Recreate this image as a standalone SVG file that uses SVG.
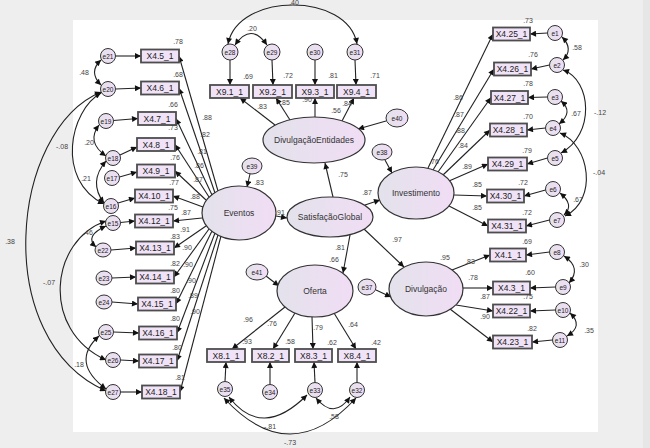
<svg xmlns="http://www.w3.org/2000/svg" width="650" height="448" viewBox="0 0 650 448">
<defs>
<marker id="ah" viewBox="0 0 10 10" refX="10" refY="5" markerWidth="7" markerHeight="6" markerUnits="userSpaceOnUse" orient="auto-start-reverse"><path d="M0,0 L10,5 L0,10 z" fill="#111"/></marker>
<linearGradient id="lg" x1="0" x2="1" y1="0" y2="0"><stop offset="0" stop-color="#e3e2eb"/><stop offset="1" stop-color="#f1ddf5"/></linearGradient>
</defs>
<style>
.c{fill:none;stroke:#222;stroke-width:1.1}
.a{marker-end:url(#ah)}
.d{marker-start:url(#ah);marker-end:url(#ah)}
.bx rect{fill:#f1e3f7;stroke:#4d4d4d;stroke-width:1.8}
.lv ellipse{fill:url(#lg);stroke:#333;stroke-width:1.2}
.er ellipse,.er circle{fill:url(#lg);stroke:#333;stroke-width:1}
text{font-family:"Liberation Sans",Arial,sans-serif;text-anchor:middle}
.t{font-size:8.5px;fill:#222}
.lt{font-size:8.5px;fill:#333}
.et{font-size:6.5px;fill:#222}
.n{font-size:7px;fill:#444}
</style>
<rect x="0" y="0" width="650" height="448" fill="#eeeeee"/>
<rect x="643" y="0" width="7" height="448" fill="#e6e6e6"/>
<rect x="73" y="20" width="525" height="412" fill="#ffffff"/>

<g id="connectors">
<!-- Eventos loadings -->
<path class="c a" d="M218,191 L179,56"/>
<path class="c a" d="M215,193 L179,88"/>
<path class="c a" d="M212,195 L176,118.5"/>
<path class="c a" d="M209,197 L175,144.5"/>
<path class="c a" d="M206,200 L175,171"/>
<path class="c a" d="M203,207 L173,196"/>
<path class="c a" d="M202,218 L173,221"/>
<path class="c a" d="M206,226 L174,248"/>
<path class="c a" d="M209,229 L174,277"/>
<path class="c a" d="M212,231 L176,304"/>
<path class="c a" d="M215,233 L177,333"/>
<path class="c a" d="M218,235 L177,361"/>
<path class="c a" d="M221,236 L180,392"/>
<!-- left errors -->
<path class="c a" d="M115.5,56 L141,56"/>
<path class="c a" d="M115.5,89 L141,88"/>
<path class="c a" d="M113.5,120.5 L138,118.5"/>
<path class="c a" d="M120,155 L137,147"/>
<path class="c a" d="M119.5,177 L137,172"/>
<path class="c a" d="M118,203 L135,198"/>
<path class="c a" d="M120.5,222.5 L135,221"/>
<path class="c a" d="M111,250 L136,248"/>
<path class="c a" d="M112,278 L136,277"/>
<path class="c a" d="M112,302 L138,304"/>
<path class="c a" d="M113.5,332 L139,333"/>
<path class="c a" d="M120.5,360 L139,361"/>
<path class="c a" d="M120.5,392 L142,392"/>
<!-- left covariances -->
<path class="c d" d="M101,60 Q88,72 101,85"/>
<path class="c d" d="M99,125 Q86,142 106,156"/>
<path class="c d" d="M106,161 Q88,182 104,203"/>
<path class="c d" d="M106,226 Q84,236 96,247"/>
<path class="c d" d="M101,93 C70,110 55,180 104,204"/>
<path class="c d" d="M101,92 C10,130 -10,340 106,391"/>
<path class="c d" d="M106,221 C50,240 40,330 106,360"/>
<path class="c d" d="M99,336 Q70,362 106,389"/>
<!-- top -->
<path class="c a" d="M230,60 L230,85"/>
<path class="c a" d="M272,60 L273,85"/>
<path class="c a" d="M315,60 L315,85"/>
<path class="c a" d="M355,60 L356,85"/>
<path class="c d" d="M235,45 Q251,22 267,45"/>
<path class="c d" d="M228,44 C238,-8 348,-8 357,44"/>
<path class="c a" d="M275,125 L240,98"/>
<path class="c a" d="M290,120 L276,98"/>
<path class="c a" d="M315,117 L315,98"/>
<path class="c a" d="M342,121 L354,98"/>
<path class="c a" d="M386,121 L358,129"/>
<!-- structural -->
<path class="c a" d="M333,197 L325,163"/>
<path class="c a" d="M365,205 L380,200"/>
<path class="c a" d="M364,229 L404,267"/>
<path class="c a" d="M350,235 L343,273"/>
<path class="c a" d="M276,216 L287,218"/>
<path class="c a" d="M250,174 L247,187"/>
<path class="c a" d="M266,276 L279,286"/>
<path class="c a" d="M376,290 L391,297"/>
<path class="c a" d="M385,160 L392,173"/>
<!-- bottom -->
<path class="c a" d="M285,307 L232,349"/>
<path class="c a" d="M295,313 L273,349"/>
<path class="c a" d="M312,317 L313,349"/>
<path class="c a" d="M334,313 L356,349"/>
<path class="c a" d="M225,381.5 L226,362"/>
<path class="c a" d="M270,384.5 L270,362"/>
<path class="c a" d="M315,382.5 L314,362"/>
<path class="c a" d="M357,382.5 L357,362"/>
<path class="c d" d="M229,397 Q262,440 307,395"/>
<path class="c d" d="M316,398 Q334,420 350,397"/>
<path class="c d" d="M224,398 Q290,470 356,398"/>
<!-- Investimento loadings -->
<path class="c a" d="M428,168 L493,34"/>
<path class="c a" d="M433,170 L494,69"/>
<path class="c a" d="M438,172 L491,97.5"/>
<path class="c a" d="M443,175 L490,130"/>
<path class="c a" d="M449,181 L488,164"/>
<path class="c a" d="M454,195 L487,196"/>
<path class="c a" d="M449,206 L488,226"/>
<!-- Divulgacao loadings -->
<path class="c a" d="M452,270 L490,255"/>
<path class="c a" d="M463,288 L493,288"/>
<path class="c a" d="M456,305 L493,311"/>
<path class="c a" d="M450,309 L493,342"/>
<!-- right errors -->
<path class="c a" d="M547.5,33 L530,34"/>
<path class="c a" d="M549.5,65 L531,69"/>
<path class="c a" d="M547.5,97 L528,97.5"/>
<path class="c a" d="M545.5,128 L527,130"/>
<path class="c a" d="M547.5,158 L527,164"/>
<path class="c a" d="M545.5,190 L524,196"/>
<path class="c a" d="M549.5,220 L526,226"/>
<path class="c a" d="M549.5,252 L526,255"/>
<path class="c a" d="M555.5,287 L530,288"/>
<path class="c a" d="M555.5,310 L530,311"/>
<path class="c a" d="M552.5,340 L532,342"/>
<!-- right covariances -->
<path class="c d" d="M562,37 Q574,49 563,60"/>
<path class="c d" d="M561,101 Q574,112 559,124"/>
<path class="c d" d="M563,70 C592,80 595,135 561,153"/>
<path class="c d" d="M560,133 C590,145 598,200 565,216"/>
<path class="c d" d="M560,193 Q575,205 564,215"/>
<path class="c d" d="M564,256 Q582,268 569,283"/>
<path class="c d" d="M570,313 Q584,326 567,336"/>
</g>

<!-- latent variables -->
<g id="Eventos" class="lv"><ellipse cx="239" cy="213" rx="37" ry="27"/><text class="lt" x="239" y="216">Eventos</text></g>
<g id="SatisfacaoGlobal" class="lv"><ellipse cx="330" cy="217" rx="43" ry="20"/><text class="lt" x="330" y="220">SatisfaçãoGlobal</text></g>
<g id="DivulgacaoEntidades" class="lv"><ellipse cx="314" cy="140" rx="51" ry="23"/><text class="lt" x="314" y="143">DivulgaçãoEntidades</text></g>
<g id="Investimento" class="lv"><ellipse cx="416" cy="193" rx="38" ry="26"/><text class="lt" x="416" y="196">Investimento</text></g>
<g id="Divulgacao" class="lv"><ellipse cx="426" cy="289" rx="37" ry="27"/><text class="lt" x="426" y="292">Divulgação</text></g>
<g id="Oferta" class="lv"><ellipse cx="315" cy="291" rx="38" ry="26"/><text class="lt" x="315" y="294">Oferta</text></g>

<!-- disturbances -->
<g id="e37" class="er"><ellipse cx="367" cy="287" rx="9" ry="8"/><text class="et" x="367" y="289.5">e37</text></g>
<g id="e38" class="er"><ellipse cx="382" cy="152" rx="10" ry="8"/><text class="et" x="382" y="154.5">e38</text></g>
<g id="e39" class="er"><ellipse cx="252" cy="166" rx="10" ry="8"/><text class="et" x="252" y="168.5">e39</text></g>
<g id="e40" class="er"><ellipse cx="397" cy="118" rx="11" ry="9"/><text class="et" x="397" y="120.5">e40</text></g>
<g id="e41" class="er"><ellipse cx="257" cy="272" rx="11" ry="8"/><text class="et" x="257" y="274.5">e41</text></g>

<!-- left indicators -->
<g id="X4.5_1" class="bx"><rect x="141" y="49.5" width="38" height="13"/><text class="t" x="160" y="59">X4.5_1</text></g>
<g id="X4.6_1" class="bx"><rect x="141" y="81.5" width="38" height="13"/><text class="t" x="160" y="91">X4.6_1</text></g>
<g id="X4.7_1" class="bx"><rect x="138" y="112" width="38" height="13"/><text class="t" x="157" y="121.5">X4.7_1</text></g>
<g id="X4.8_1" class="bx"><rect x="137" y="138" width="38" height="13"/><text class="t" x="156" y="147.5">X4.8_1</text></g>
<g id="X4.9_1" class="bx"><rect x="137" y="164.5" width="38" height="13"/><text class="t" x="156" y="174">X4.9_1</text></g>
<g id="X4.10_1" class="bx"><rect x="135" y="189.5" width="38" height="13"/><text class="t" x="154" y="199">X4.10_1</text></g>
<g id="X4.12_1" class="bx"><rect x="135" y="214.5" width="38" height="13"/><text class="t" x="154" y="224">X4.12_1</text></g>
<g id="X4.13_1" class="bx"><rect x="136" y="241.5" width="38" height="13"/><text class="t" x="155" y="251">X4.13_1</text></g>
<g id="X4.14_1" class="bx"><rect x="136" y="270.5" width="38" height="13"/><text class="t" x="155" y="280">X4.14_1</text></g>
<g id="X4.15_1" class="bx"><rect x="138" y="297.5" width="38" height="13"/><text class="t" x="157" y="307">X4.15_1</text></g>
<g id="X4.16_1" class="bx"><rect x="139" y="326.5" width="38" height="13"/><text class="t" x="158" y="336">X4.16_1</text></g>
<g id="X4.17_1" class="bx"><rect x="139" y="354.5" width="38" height="13"/><text class="t" x="158" y="364">X4.17_1</text></g>
<g id="X4.18_1" class="bx"><rect x="142" y="385.5" width="38" height="13"/><text class="t" x="161" y="395">X4.18_1</text></g>

<!-- left errors -->
<g id="e21" class="er"><circle cx="108" cy="56" r="7.5"/><text class="et" x="108" y="58.5">e21</text></g>
<g id="e20" class="er"><circle cx="108" cy="89" r="7.5"/><text class="et" x="108" y="91.5">e20</text></g>
<g id="e19" class="er"><circle cx="106" cy="121" r="7.5"/><text class="et" x="106" y="123.5">e19</text></g>
<g id="e18" class="er"><circle cx="113" cy="158" r="7.5"/><text class="et" x="113" y="160.5">e18</text></g>
<g id="e17" class="er"><circle cx="112" cy="178" r="7.5"/><text class="et" x="112" y="180.5">e17</text></g>
<g id="e16" class="er"><circle cx="111" cy="206" r="7.5"/><text class="et" x="111" y="208.5">e16</text></g>
<g id="e15" class="er"><circle cx="113" cy="223" r="7.5"/><text class="et" x="113" y="225.5">e15</text></g>
<g id="e22" class="er"><ellipse cx="103" cy="250" rx="8" ry="7"/><text class="et" x="103" y="252.5">e22</text></g>
<g id="e23" class="er"><ellipse cx="104" cy="278" rx="8" ry="7"/><text class="et" x="104" y="280.5">e23</text></g>
<g id="e24" class="er"><ellipse cx="104" cy="302" rx="8" ry="7"/><text class="et" x="104" y="304.5">e24</text></g>
<g id="e25" class="er"><circle cx="106" cy="332" r="7.5"/><text class="et" x="106" y="334.5">e25</text></g>
<g id="e26" class="er"><circle cx="113" cy="360" r="7.5"/><text class="et" x="113" y="362.5">e26</text></g>
<g id="e27" class="er"><circle cx="113" cy="392" r="7.5"/><text class="et" x="113" y="394.5">e27</text></g>

<!-- top indicators -->
<g id="X9.1_1" class="bx"><rect x="210" y="85" width="39" height="13"/><text class="t" x="229.5" y="94.5">X9.1_1</text></g>
<g id="X9.2_1" class="bx"><rect x="253" y="85" width="39" height="13"/><text class="t" x="272.5" y="94.5">X9.2_1</text></g>
<g id="X9.3_1" class="bx"><rect x="296" y="85" width="38" height="13"/><text class="t" x="315" y="94.5">X9.3_1</text></g>
<g id="X9.4_1" class="bx"><rect x="337" y="85" width="39" height="13"/><text class="t" x="356.5" y="94.5">X9.4_1</text></g>
<g id="e28" class="er"><circle cx="230" cy="52" r="8"/><text class="et" x="230" y="54.5">e28</text></g>
<g id="e29" class="er"><circle cx="272" cy="52" r="8"/><text class="et" x="272" y="54.5">e29</text></g>
<g id="e30" class="er"><circle cx="315" cy="52" r="8"/><text class="et" x="315" y="54.5">e30</text></g>
<g id="e31" class="er"><circle cx="355" cy="52" r="8"/><text class="et" x="355" y="54.5">e31</text></g>

<!-- bottom indicators -->
<g id="X8.1_1" class="bx"><rect x="207" y="349" width="38" height="13"/><text class="t" x="226" y="358.5">X8.1_1</text></g>
<g id="X8.2_1" class="bx"><rect x="252" y="349" width="37" height="13"/><text class="t" x="270.5" y="358.5">X8.2_1</text></g>
<g id="X8.3_1" class="bx"><rect x="295" y="349" width="37" height="13"/><text class="t" x="313.5" y="358.5">X8.3_1</text></g>
<g id="X8.4_1" class="bx"><rect x="338" y="349" width="38" height="13"/><text class="t" x="357" y="358.5">X8.4_1</text></g>
<g id="e35" class="er"><circle cx="225" cy="389" r="7.5"/><text class="et" x="225" y="391.5">e35</text></g>
<g id="e34" class="er"><circle cx="270" cy="392" r="7.5"/><text class="et" x="270" y="394.5">e34</text></g>
<g id="e33" class="er"><circle cx="315" cy="390" r="7.5"/><text class="et" x="315" y="392.5">e33</text></g>
<g id="e32" class="er"><circle cx="357" cy="390" r="7.5"/><text class="et" x="357" y="392.5">e32</text></g>

<!-- right indicators -->
<g id="X4.25_1" class="bx"><rect x="493" y="27.5" width="37" height="13"/><text class="t" x="511.5" y="37">X4.25_1</text></g>
<g id="X4.26_1" class="bx"><rect x="494" y="62.5" width="37" height="13"/><text class="t" x="512.5" y="72">X4.26_1</text></g>
<g id="X4.27_1" class="bx"><rect x="491" y="91" width="37" height="13"/><text class="t" x="509.5" y="100.5">X4.27_1</text></g>
<g id="X4.28_1" class="bx"><rect x="490" y="123.5" width="37" height="13"/><text class="t" x="508.5" y="133">X4.28_1</text></g>
<g id="X4.29_1" class="bx"><rect x="488" y="157.5" width="39" height="13"/><text class="t" x="507.5" y="167">X4.29_1</text></g>
<g id="X4.30_1" class="bx"><rect x="487" y="189.5" width="37" height="13"/><text class="t" x="505.5" y="199">X4.30_1</text></g>
<g id="X4.31_1" class="bx"><rect x="488" y="219.5" width="38" height="13"/><text class="t" x="507" y="229">X4.31_1</text></g>
<g id="X4.1_1" class="bx"><rect x="490" y="248.5" width="36" height="13"/><text class="t" x="508" y="258">X4.1_1</text></g>
<g id="X4.3_1" class="bx"><rect x="493" y="281.5" width="37" height="13"/><text class="t" x="511.5" y="291">X4.3_1</text></g>
<g id="X4.22_1" class="bx"><rect x="493" y="304.5" width="37" height="13"/><text class="t" x="511.5" y="314">X4.22_1</text></g>
<g id="X4.23_1" class="bx"><rect x="493" y="335.5" width="39" height="13"/><text class="t" x="512.5" y="345">X4.23_1</text></g>

<!-- right errors -->
<g id="e1" class="er"><circle cx="555" cy="33" r="7.5"/><text class="et" x="555" y="35.5">e1</text></g>
<g id="e2" class="er"><circle cx="557" cy="65" r="7.5"/><text class="et" x="557" y="67.5">e2</text></g>
<g id="e3" class="er"><circle cx="555" cy="97" r="7.5"/><text class="et" x="555" y="99.5">e3</text></g>
<g id="e4" class="er"><circle cx="553" cy="128" r="7.5"/><text class="et" x="553" y="130.5">e4</text></g>
<g id="e5" class="er"><circle cx="555" cy="158" r="7.5"/><text class="et" x="555" y="160.5">e5</text></g>
<g id="e6" class="er"><circle cx="553" cy="189" r="7.5"/><text class="et" x="553" y="191.5">e6</text></g>
<g id="e7" class="er"><circle cx="557" cy="220" r="7.5"/><text class="et" x="557" y="222.5">e7</text></g>
<g id="e8" class="er"><circle cx="557" cy="252" r="7.5"/><text class="et" x="557" y="254.5">e8</text></g>
<g id="e9" class="er"><circle cx="563" cy="287" r="7.5"/><text class="et" x="563" y="289.5">e9</text></g>
<g id="e10" class="er"><circle cx="563" cy="310" r="7.5"/><text class="et" x="563" y="312.5">e10</text></g>
<g id="e11" class="er"><circle cx="560" cy="340" r="7.5"/><text class="et" x="560" y="342.5">e11</text></g>

<g id="labels" class="n">
<text class="n" x="294" y="5">.40</text>
<text class="n" x="252" y="31">.20</text>
<text class="n" x="248" y="79">.69</text>
<text class="n" x="288" y="78">.72</text>
<text class="n" x="333" y="78">.81</text>
<text class="n" x="375" y="78">.71</text>
<text class="n" x="262" y="109">.83</text>
<text class="n" x="285" y="105">.85</text>
<text class="n" x="307" y="102">.90</text>
<text class="n" x="336" y="113">.56</text>
<text class="n" x="347" y="106">.84</text>
<text class="n" x="343" y="177">.75</text>
<text class="n" x="367" y="195">.87</text>
<text class="n" x="397" y="242">.97</text>
<text class="n" x="340" y="250">.81</text>
<text class="n" x="334" y="262">.66</text>
<text class="n" x="280" y="215">.91</text>
<text class="n" x="259" y="185">.83</text>
<text class="n" x="434" y="164">.76</text>
<text class="n" x="445" y="260">.95</text>
<text class="n" x="458" y="100">.86</text>
<text class="n" x="459" y="117">.87</text>
<text class="n" x="460" y="133">.88</text>
<text class="n" x="463" y="148">.84</text>
<text class="n" x="467" y="169">.89</text>
<text class="n" x="477" y="187">.85</text>
<text class="n" x="477" y="210">.85</text>
<text class="n" x="470" y="264">.83</text>
<text class="n" x="473" y="280">.78</text>
<text class="n" x="485" y="299">.87</text>
<text class="n" x="485" y="319">.90</text>
<text class="n" x="528" y="23">.73</text>
<text class="n" x="533" y="57">.76</text>
<text class="n" x="528" y="86">.78</text>
<text class="n" x="528" y="119">.70</text>
<text class="n" x="527" y="153">.79</text>
<text class="n" x="523" y="185">.72</text>
<text class="n" x="527" y="215">.72</text>
<text class="n" x="527" y="244">.69</text>
<text class="n" x="530" y="275">.60</text>
<text class="n" x="528" y="299">.75</text>
<text class="n" x="532" y="331">.82</text>
<text class="n" x="577" y="50">.58</text>
<text class="n" x="576" y="116">.67</text>
<text class="n" x="600" y="115">-.12</text>
<text class="n" x="599" y="175">-.04</text>
<text class="n" x="578" y="202">.67</text>
<text class="n" x="584" y="267">.30</text>
<text class="n" x="589" y="333">.35</text>
<text class="n" x="248" y="322">.96</text>
<text class="n" x="272" y="326">.76</text>
<text class="n" x="318" y="330">.79</text>
<text class="n" x="353" y="327">.64</text>
<text class="n" x="247" y="344">.93</text>
<text class="n" x="290" y="344">.58</text>
<text class="n" x="332" y="345">.62</text>
<text class="n" x="376" y="345">.42</text>
<text class="n" x="270" y="429">-.81</text>
<text class="n" x="334" y="419">.58</text>
<text class="n" x="290" y="445">-.73</text>
<text class="n" x="84" y="75">.48</text>
<text class="n" x="89" y="145">.20</text>
<text class="n" x="86" y="181">.21</text>
<text class="n" x="88" y="235">.46</text>
<text class="n" x="62" y="149">-.08</text>
<text class="n" x="10" y="244">.38</text>
<text class="n" x="49" y="285">-.07</text>
<text class="n" x="79" y="367">.18</text>
<text class="n" x="178" y="44">.78</text>
<text class="n" x="178" y="77">.68</text>
<text class="n" x="173" y="107">.66</text>
<text class="n" x="173" y="130">.73</text>
<text class="n" x="175" y="160">.76</text>
<text class="n" x="174" y="185">.77</text>
<text class="n" x="173" y="210">.75</text>
<text class="n" x="175" y="239">.83</text>
<text class="n" x="175" y="266">.82</text>
<text class="n" x="175" y="293">.80</text>
<text class="n" x="175" y="321">.80</text>
<text class="n" x="177" y="350">.80</text>
<text class="n" x="180" y="380">.81</text>
<text class="n" x="207" y="120">.88</text>
<text class="n" x="205" y="137">.82</text>
<text class="n" x="202" y="154">.81</text>
<text class="n" x="199" y="168">.86</text>
<text class="n" x="198" y="182">.87</text>
<text class="n" x="195" y="199">.88</text>
<text class="n" x="186" y="215">.87</text>
<text class="n" x="185" y="232">.91</text>
<text class="n" x="187" y="250">.90</text>
<text class="n" x="188" y="267">.90</text>
<text class="n" x="191" y="283">.90</text>
<text class="n" x="193" y="298">.89</text>
<text class="n" x="195" y="314">.90</text>
</g>
</svg>
